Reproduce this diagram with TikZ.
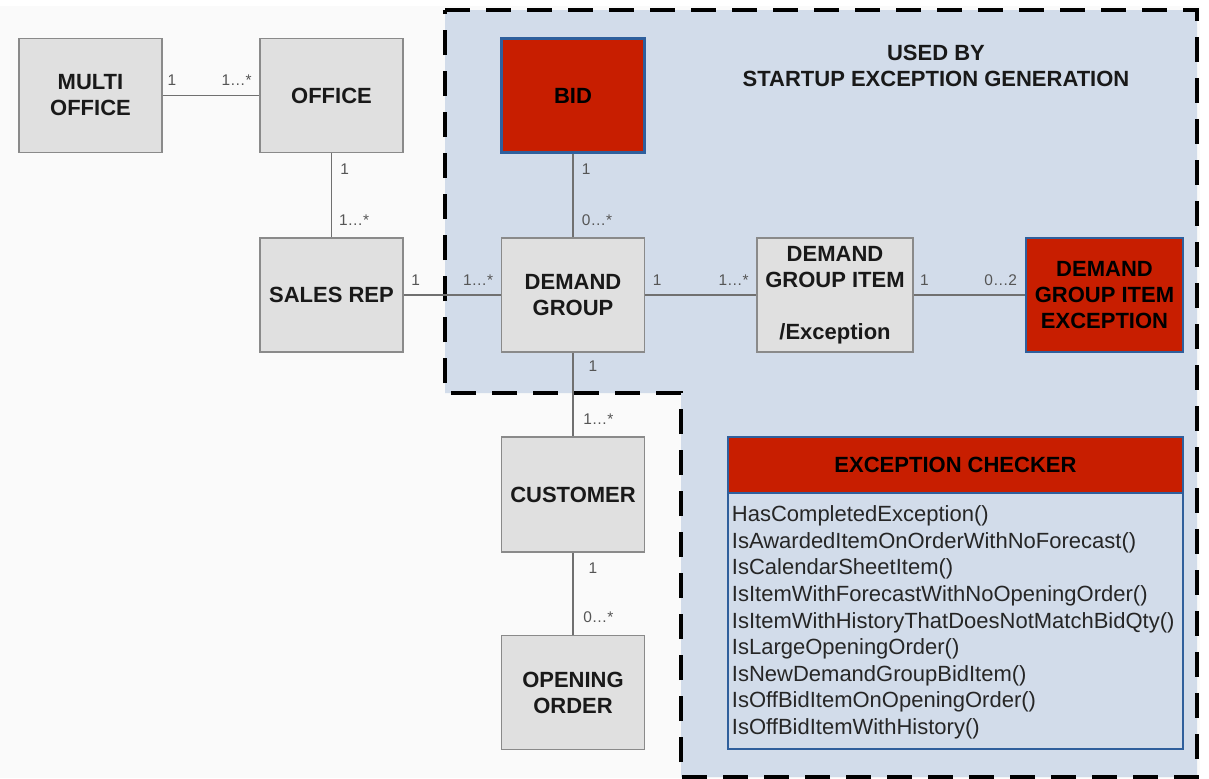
\documentclass[tikz,border=0pt]{standalone}
\usepackage{fontspec}
\setmainfont{Liberation Sans}
\definecolor{pagebg}{HTML}{FAFAFA}
\definecolor{regionblue}{HTML}{D2DCEA}
\definecolor{boxfill}{HTML}{E0E0E0}
\definecolor{boxborder}{HTML}{8A8A8A}
\definecolor{excred}{HTML}{C81E00}
\definecolor{excblue}{HTML}{2F5F9C}
\definecolor{conncolor}{HTML}{707070}
\definecolor{multgray}{HTML}{555555}
\begin{document}
\begin{tikzpicture}[x=0.75pt,y=-0.75pt,
  box/.style={draw=boxborder, fill=boxfill, line width=1.2pt, minimum width=107.25pt, minimum height=85.5pt, inner sep=0pt, align=center, font=\bfseries\fontsize{16.5}{19.5}\selectfont, text=black!90},
  redbox/.style={box, fill=excred, draw=excblue, line width=2pt, text=black},
  conn/.style={draw=conncolor, line width=1.4pt},
  mult/.style={font=\fontsize{11.6}{13}\selectfont, text=multgray, inner sep=0pt},
  region/.style={fill=regionblue, draw=black, line width=3pt, dash pattern=on 18.75pt off 12pt},
]
\useasboundingbox (0,0) rectangle (1209,778);
\fill[pagebg] (0,0) rectangle (1209,778);
\fill[white] (1200,0) rectangle (1209,778);
\fill[white] (0,0) rectangle (1209,6);

% region used by startup exception generation
\draw[region] (445,10) -- (1197,10) -- (1197,777) -- (681,777) -- (681,393) -- (445,393) -- cycle;

\node[align=center, font=\bfseries\fontsize{16.5}{19.5}\selectfont, text=black!90] (title) at (936,66) {USED BY\\STARTUP EXCEPTION GENERATION};

% boxes
\node[box] (mo) at (90.5,95.5) {MULTI\\OFFICE};
\node[box] (off) at (331.5,95.5) {OFFICE};
\node[redbox] (bid) at (573,95.5) {BID};
\node[box] (srep) at (331.5,295) {SALES REP};
\node[box] (dg) at (573,295) {DEMAND\\GROUP};
\node[box, minimum width=117pt] (dgi) at (835,295) {DEMAND\\GROUP ITEM\\[19.5pt]/Exception};
\node[redbox, minimum width=117.75pt] (dgie) at (1104.5,295) {DEMAND\\GROUP ITEM\\EXCEPTION};
\node[box, minimum height=86.25pt] (cust) at (573,494.5) {CUSTOMER};
\node[box] (oo) at (573,692.5) {OPENING\\ORDER};

% exception checker
\node[redbox, minimum width=341.25pt, minimum height=42pt] (ech) at (955.5,465) {EXCEPTION CHECKER};
\node[draw=excblue, line width=2pt, minimum width=341.25pt, minimum height=192pt, inner sep=0pt] (ecb) at (955.5,621) {};
\node[anchor=north west, align=left, inner sep=0pt, font=\fontsize{16.5}{19.9}\selectfont, text=black!85] (ect) at ([xshift=3.75pt, yshift=-10.5pt]ecb.north west)
{HasCompletedException()\\
IsAwardedItemOnOrderWithNoForecast()\\
IsCalendarSheetItem()\\
IsItemWithForecastWithNoOpeningOrder()\\
IsItemWithHistoryThatDoesNotMatchBidQty()\\
IsLargeOpeningOrder()\\
IsNewDemandGroupBidItem()\\
IsOffBidItemOnOpeningOrder()\\
IsOffBidItemWithHistory()};

% connectors
\draw[conn] (mo) -- node[mult, at start, anchor=south west, xshift=3pt, yshift=6.5pt]{1}
  node[mult, at end, anchor=south east, xshift=-5pt, yshift=6.5pt]{1…*} (off);
\draw[conn] (off) -- node[mult, at start, anchor=north west, xshift=6pt, yshift=-7pt]{1}
  node[mult, at end, anchor=south west, xshift=5pt, yshift=8pt]{1…*} (srep);
\draw[conn] (srep) -- node[mult, at start, anchor=south west, xshift=5pt, yshift=6.5pt]{1}
  node[mult, at end, anchor=south east, xshift=-5pt, yshift=6.5pt]{1…*} (dg);
\draw[conn] (bid) -- node[mult, at start, anchor=north west, xshift=6pt, yshift=-7pt]{1}
  node[mult, at end, anchor=south west, xshift=6pt, yshift=8pt]{0…*} (dg);
\draw[conn] (dg) -- node[mult, at start, anchor=south west, xshift=5pt, yshift=6.5pt]{1}
  node[mult, at end, anchor=south east, xshift=-5pt, yshift=6.5pt]{1…*} (dgi);
\draw[conn] (dgi) -- node[mult, at start, anchor=south west, xshift=4pt, yshift=6.5pt]{1}
  node[mult, at end, anchor=south east, xshift=-5pt, yshift=6.5pt]{0…2} (dgie);
\draw[conn] (dg) -- node[mult, at start, anchor=north west, xshift=11pt, yshift=-5pt]{1}
  node[mult, at end, anchor=south west, xshift=7pt, yshift=8pt]{1…*} (cust);
\draw[conn] (cust) -- node[mult, at start, anchor=north west, xshift=11pt, yshift=-7pt]{1}
  node[mult, at end, anchor=south west, xshift=7pt, yshift=8pt]{0…*} (oo);
\end{tikzpicture}
\end{document}
